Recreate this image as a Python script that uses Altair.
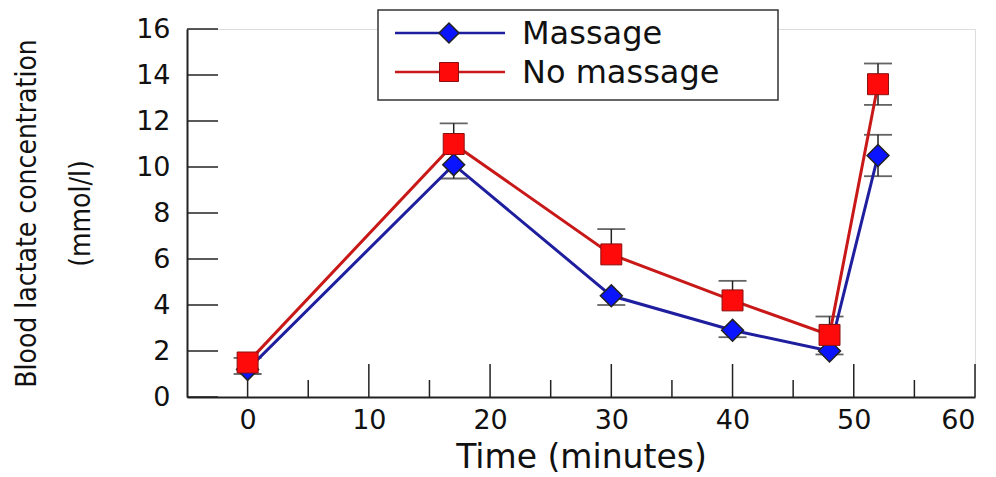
import altair as alt
import pandas as pd

# ---- data ----
times = [0, 17, 30, 40, 48, 52]
series_names = ["Massage", "No massage"]
massage = [1.2, 10.1, 4.4, 2.9, 2.0, 10.5]
no_massage = [1.5, 11.0, 6.2, 4.2, 2.7, 13.6]
massage_err = [0.2, 0.6, 0.4, 0.3, 0.15, 0.9]      # drawn downward (both ways at 52)
no_massage_err = [0.2, 0.9, 1.1, 0.85, 0.8, 0.9]   # drawn upward (both ways at 52)

y_tick_values = [0, 2, 4, 6, 8, 10, 12, 14, 16]
x_label_values = [0, 10, 20, 30, 40, 50, 60]
x_minor_values = [5, 15, 25, 35, 45, 55]

W, H = 788, 368
FONT = "DejaVu Sans"
NARROW = "Liberation Sans Narrow, DejaVu Sans Condensed, Arial Narrow, sans-serif"

rows = []
for t, m, n in zip(times, massage, no_massage):
    rows.append({"t": t, "v": m, "s": "Massage"})
    rows.append({"t": t, "v": n, "s": "No massage"})
df = pd.DataFrame(rows)

err_rows = []
for t, m, e in zip(times, massage, massage_err):
    err_rows.append({"t": t, "y": m, "y2": m - e, "s": "Massage"})
    if t == 52:
        err_rows.append({"t": t, "y": m, "y2": m + e, "s": "Massage"})
for t, n, e in zip(times, no_massage, no_massage_err):
    err_rows.append({"t": t, "y": n, "y2": n + e, "s": "No massage"})
    if t == 52:
        err_rows.append({"t": t, "y": n, "y2": n - e, "s": "No massage"})
edf = pd.DataFrame(err_rows)

xs = alt.Scale(domain=[-5, 60], nice=False, zero=False)
ys = alt.Scale(domain=[0, 16], nice=False, zero=False)

X = alt.X("t:Q", scale=xs, axis=alt.Axis(
    values=x_label_values, ticks=False, tickSize=0, grid=False,
    domainColor="#222", domainWidth=2, labelFont=FONT, labelFontSize=27,
    labelColor="#111", labelPadding=10, title="Time (minutes)",
    titleFont=FONT, titleFontSize=33, titleFontWeight="normal", titleColor="#111",
    titleY=70, titleBaseline="alphabetic"))
Y = alt.Y("v:Q", scale=ys, axis=alt.Axis(
    values=y_tick_values, ticks=False, tickSize=0, grid=False,
    domainColor="#222", domainWidth=2, labelFont=FONT, labelFontSize=27,
    labelColor="#111", labelPadding=17,
    title=["Blood lactate concentration", "(mmol/l)"],
    titleFont=NARROW, titleFontSize=28, titleFontWeight="normal", titleColor="#111",
    titleAngle=-90, titleX=-174, titleY=H / 2, titleAlign="center",
    titleBaseline="top", titleLineHeight=54))

color_line = alt.Scale(domain=series_names, range=["#1e1e9e", "#c81818"])

lines = alt.Chart(df).mark_line(strokeWidth=3).encode(
    x=X, y=Y, color=alt.Color("s:N", scale=color_line, legend=None), detail="s:N")

stems = alt.Chart(edf).mark_rule(color="#222", strokeWidth=1.5).encode(
    x=alt.X("t:Q", scale=xs), y=alt.Y("y:Q", scale=ys), y2="y2:Q")
caps = alt.Chart(edf).mark_tick(color="#222", orient="horizontal", size=28, thickness=1.8).encode(
    x=alt.X("t:Q", scale=xs), y=alt.Y("y2:Q", scale=ys))

pts_m = alt.Chart(df[df.s == "Massage"]).mark_point(
    shape="diamond", size=480, filled=True, fill="#0a14ff", stroke="#222", strokeWidth=1.5, opacity=1
).encode(x=alt.X("t:Q", scale=xs), y=alt.Y("v:Q", scale=ys))
pts_n = alt.Chart(df[df.s == "No massage"]).mark_point(
    shape="square", size=440, filled=True, fill="#ff0a0a", stroke="#8a1010", strokeWidth=1, opacity=1
).encode(x=alt.X("t:Q", scale=xs), y=alt.Y("v:Q", scale=ys))

# inward tick marks
ytk = alt.Chart(pd.DataFrame({"v": y_tick_values})).mark_rule(color="#222", strokeWidth=1.5).encode(
    y=alt.Y("v:Q", scale=ys), x=alt.value(0), x2=alt.value(31))
xmaj = alt.Chart(pd.DataFrame({"t": x_label_values})).mark_rule(color="#222", strokeWidth=1.5).encode(
    x=alt.X("t:Q", scale=xs), y=alt.value(H), y2=alt.value(H - 33))
xmin = alt.Chart(pd.DataFrame({"t": x_minor_values})).mark_rule(color="#222", strokeWidth=1.5).encode(
    x=alt.X("t:Q", scale=xs), y=alt.value(H), y2=alt.value(H - 17))

# legend
leg_box = alt.Chart(pd.DataFrame({"a": [0]})).mark_rect(
    fill="white", stroke="#333", strokeWidth=1.5).encode(
    x=alt.value(191), x2=alt.value(591), y=alt.value(-19), y2=alt.value(71))
leg = []
row_y = [4, 43]
line_cols = ["#1e1e9e", "#c81818"]
for i, name in enumerate(series_names):
    d = pd.DataFrame({"s": [name]})
    leg.append(alt.Chart(d).mark_rule(color=line_cols[i], strokeWidth=2.5).encode(
        x=alt.value(208), x2=alt.value(318), y=alt.value(row_y[i])))
    if i == 0:
        leg.append(alt.Chart(d).mark_point(shape="diamond", size=400, filled=True, fill="#0a14ff",
                                           stroke="#222", strokeWidth=1.5, opacity=1).encode(
            x=alt.value(262), y=alt.value(row_y[i])))
    else:
        leg.append(alt.Chart(d).mark_point(shape="square", size=360, filled=True, fill="#ff0a0a",
                                           stroke="#8a1010", strokeWidth=1, opacity=1).encode(
            x=alt.value(262), y=alt.value(row_y[i])))
    leg.append(alt.Chart(d).mark_text(align="left", baseline="middle", font=FONT, fontSize=32,
                                      color="#111").encode(
        x=alt.value(335), y=alt.value(row_y[i] + 1), text="s:N"))

chart = alt.layer(
    ytk, xmaj, xmin, stems, caps, lines, pts_m, pts_n, leg_box, *leg
).properties(
    width=W, height=H,
    autosize=alt.AutoSizeParams(type="none"),
    padding={"left": 179, "top": 21, "right": 13, "bottom": 80},
).configure_view(stroke=None).configure(background="white")

chart.save("out.html", embed_options={"renderer": "svg", "actions": False})
